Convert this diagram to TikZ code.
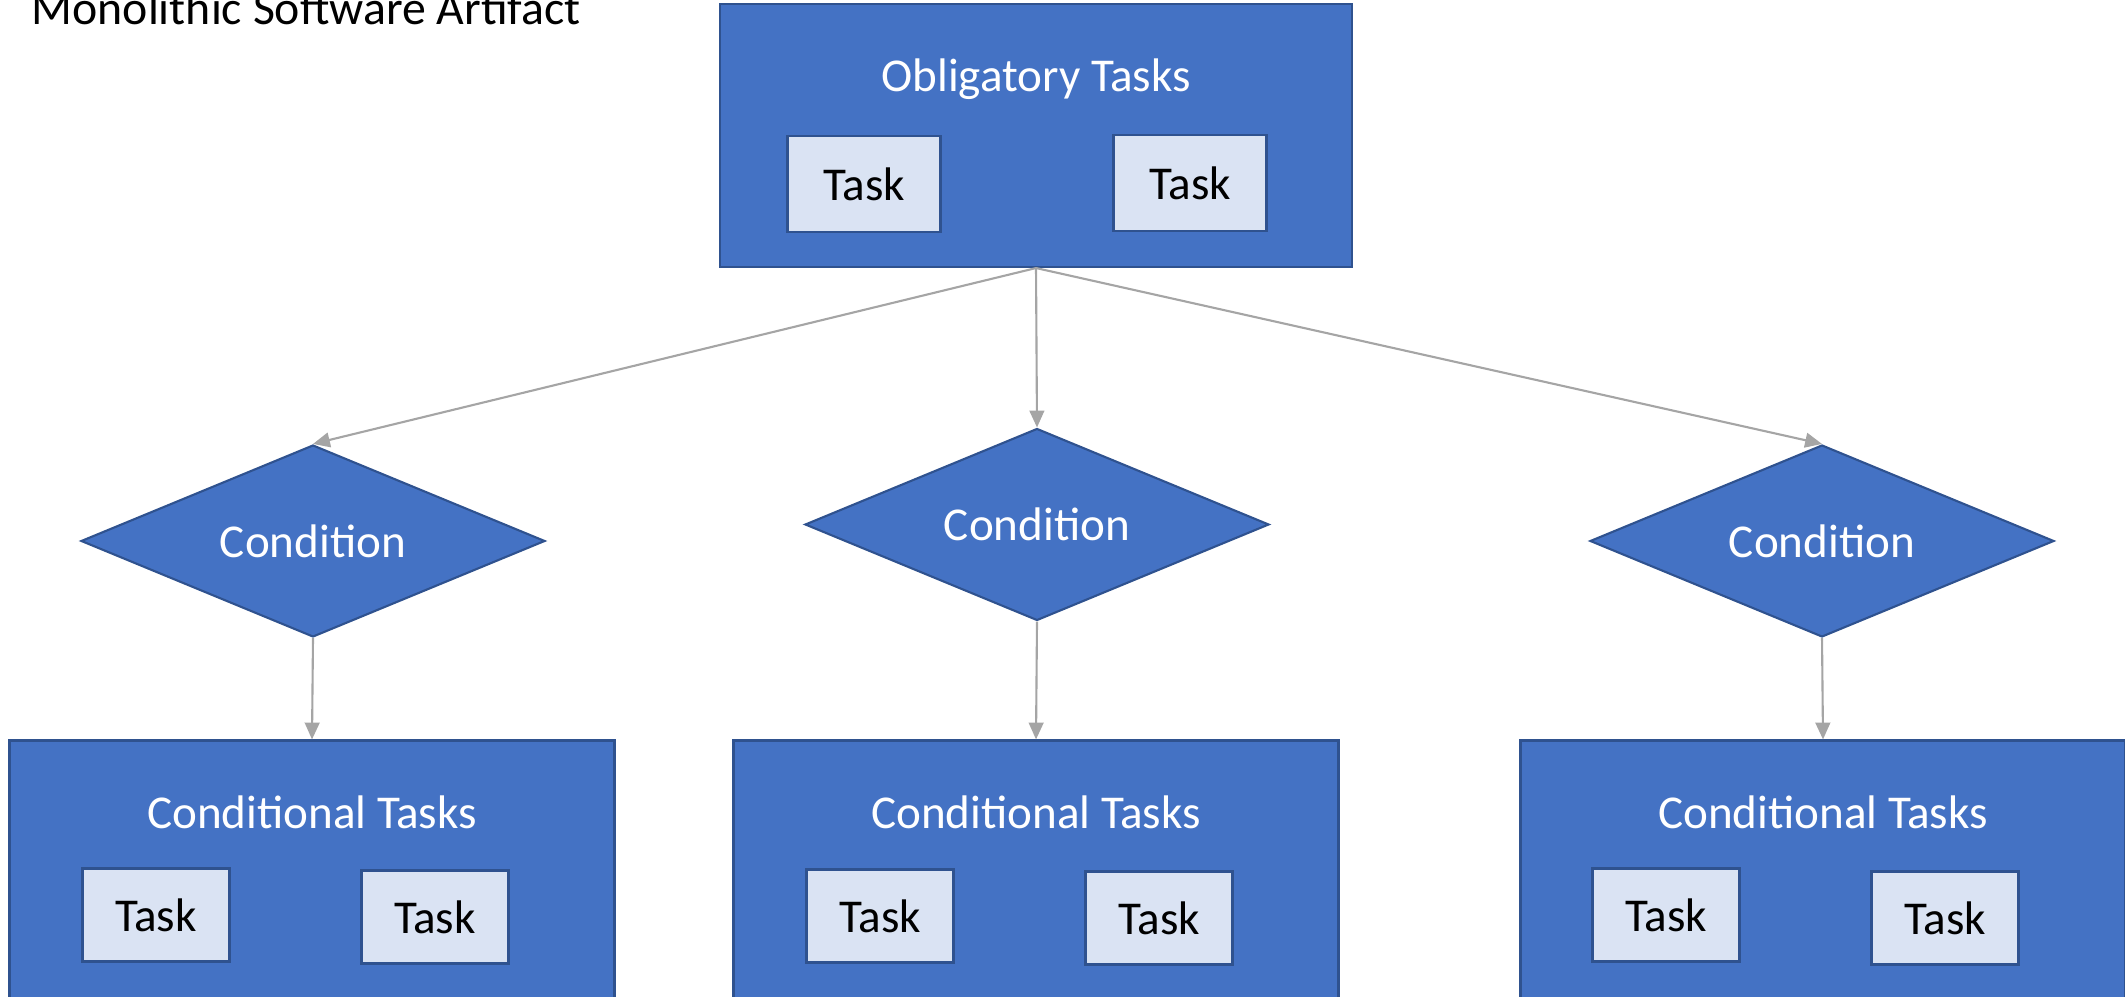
\documentclass[tikz,border=0pt]{standalone}
\usepackage{fontspec}
\setmainfont{Carlito}
\usepackage{tikz}
\usetikzlibrary{arrows.meta,shapes.geometric,positioning}
\definecolor{officeblue}{HTML}{4472C4}
\definecolor{darkblue}{HTML}{2F528F}
\definecolor{paleblue}{HTML}{DAE3F3}
\definecolor{arrowgray}{HTML}{A5A5A5}

\begin{document}
\begin{tikzpicture}[->,>={Triangle[length=4.8pt,width=4.2pt]},auto,font=\fontsize{13.4}{16}\selectfont]
  \tikzstyle{block}=[draw=darkblue,line width=0.6pt,fill=officeblue,minimum width=6.05cm,minimum height=2.63cm]
  \tikzstyle{cond}=[diamond,aspect=2.4,draw=darkblue,line width=0.6pt,fill=officeblue,text=white,minimum width=4.64cm,minimum height=1.92cm,inner sep=0pt]
  \tikzstyle{task}=[draw=darkblue,line width=0.8pt,fill=paleblue,minimum width=1.47cm,minimum height=0.93cm]
  \tikzstyle{head}=[text=white]
  \tikzstyle{every edge}=[draw,arrowgray,line width=0.6pt]

  \useasboundingbox (0,0) rectangle (21.25,-9.97);
  \clip (0,0) rectangle (21.25,-9.97);

  \node[anchor=base west,inner sep=0pt,font=\fontsize{13.6}{16}\selectfont] (title) at (0.31,-0.245) {Monolithic Software Artifact};

  \node[block,minimum width=6.32cm] (obl) at (10.36,-1.355) {};
  \node[head] (oblt) at ([yshift=-7.6mm]obl.north) {Obligatory Tasks};
  \node[task,minimum width=1.53cm,minimum height=0.96cm] (ot1) at (8.64,-1.84) {Task};
  \node[task,minimum width=1.53cm,minimum height=0.96cm] (ot2) at (11.90,-1.83) {Task};

  \node[cond] (c1) at (3.13,-5.41)  {Condition};
  \node[cond] (c2) at (10.37,-5.245) {Condition};
  \node[cond] (c3) at (18.22,-5.41) {Condition};

  \node[block] (ct1) at (3.12,-8.72) {};
  \node[head] (ct1t) at ([yshift=-7.3mm]ct1.north) {Conditional Tasks};
  \node[task] (t11) at (1.56,-9.15) {Task};
  \node[task] (t12) at (4.35,-9.17) {Task};

  \node[block] (ct2) at (10.36,-8.72) {};
  \node[head] (ct2t) at ([yshift=-7.3mm]ct2.north) {Conditional Tasks};
  \node[task] (t21) at (8.80,-9.16) {Task};
  \node[task] (t22) at (11.59,-9.18) {Task};

  \node[block] (ct3) at (18.23,-8.72) {};
  \node[head] (ct3t) at ([yshift=-7.3mm]ct3.north) {Conditional Tasks};
  \node[task] (t31) at (16.66,-9.15) {Task};
  \node[task] (t32) at (19.45,-9.18) {Task};

  \path (obl.south) edge (c1.north)
                    edge (c2.north)
                    edge (c3.north)
        (c1.south) edge (ct1.north)
        (c2.south) edge (ct2.north)
        (c3.south) edge (ct3.north);
\end{tikzpicture}
\end{document}
